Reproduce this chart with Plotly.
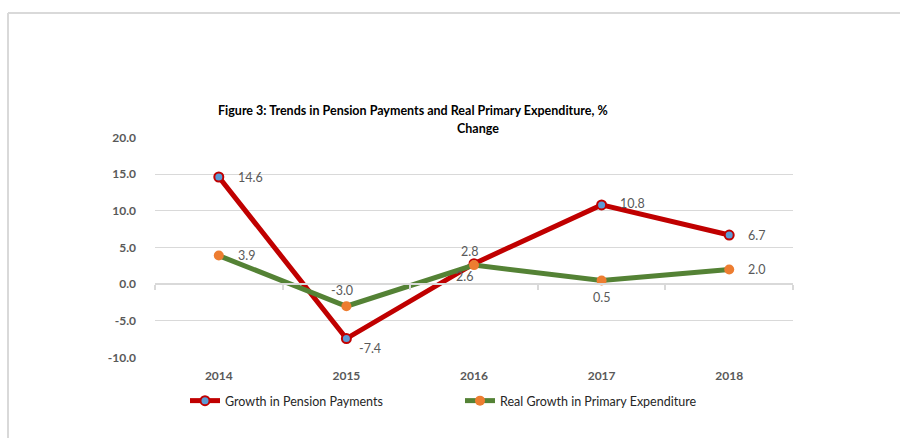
import plotly.graph_objects as go

years = ["2014", "2015", "2016", "2017", "2018"]
pension_growth = [14.6, -7.4, 2.8, 10.8, 6.7]
primary_exp_growth = [3.9, -3.0, 2.6, 0.5, 2.0]
y_ticks = [-10, -5, 0, 5, 10, 15, 20]

# label offsets (px) relative to each point: (xshift, yshift, xanchor)
pension_label_off = [(17, 0, "left"), (11, -10, "left"), (-5, 12, "center"), (16, 1, "left"), (17, 0, "left")]
primary_label_off = [(17, 0, "left"), (-4, 16, "center"), (-10, -11, "center"), (0, -17, "center"), (17, 0, "left")]

W, H = 900, 438
x_dom = [155 / W, 793 / W]
y_dom = [(H - 358) / H, (H - 137) / H]
y_min, y_max = -10, 20
zero_pos = y_dom[0] + (0 - y_min) / (y_max - y_min) * (y_dom[1] - y_dom[0])

FONT = "Lato, 'Open Sans', sans-serif"
GRAY = "#595959"
GRID = "#D9D9D9"

xs = list(range(len(years)))

fig = go.Figure()
fig.add_trace(go.Scatter(
    x=xs, y=pension_growth, name="Growth in Pension Payments",
    mode="lines+markers",
    line=dict(color="#C00000", width=5),
    marker=dict(symbol="circle", size=9, color="#5B9BD5",
                line=dict(color="#C00000", width=2)),
))
fig.add_trace(go.Scatter(
    x=xs, y=primary_exp_growth, name="Real Growth in Primary Expenditure",
    mode="lines+markers",
    line=dict(color="#548235", width=5),
    marker=dict(symbol="circle", size=10, color="#ED7D31",
                line=dict(color="#ED7D31", width=0)),
))

for series, offsets in ((pension_growth, pension_label_off), (primary_exp_growth, primary_label_off)):
    for i, (v, (dx, dy, anchor)) in enumerate(zip(series, offsets)):
        fig.add_annotation(x=i, y=v, text=f"{v:.1f}", showarrow=False,
                           xanchor=anchor, yanchor="middle", xshift=dx, yshift=dy,
                           font=dict(family=FONT, size=12.5, color=GRAY))

fig.update_layout(
    width=W, height=H,
    margin=dict(l=0, r=0, t=0, b=0, autoexpand=False),
    paper_bgcolor="white", plot_bgcolor="white",
    font=dict(family=FONT, color=GRAY),
    showlegend=True,
    legend=dict(orientation="h", x=185 / W, y=(H - 401) / H,
                xanchor="left", yanchor="middle",
                font=dict(family=FONT, size=12.5, color="#262626"),
                entrywidth=230, itemwidth=30,
                bgcolor="rgba(0,0,0,0)"),
    xaxis=dict(domain=x_dom, range=[-0.5, len(years) - 0.5],
               tickvals=xs, ticktext=years, showgrid=False,
               zeroline=False, showline=False, ticks="", ticklabelstandoff=9,
               tickfont=dict(family=FONT, size=12, color=GRAY, weight="bold"),
               anchor="y"),
    xaxis2=dict(domain=x_dom, range=[-0.5, len(years) - 0.5],
                overlaying="x", anchor="free", position=zero_pos,
                side="bottom", showline=True, linecolor=GRID, linewidth=1.5,
                ticks="outside", ticklen=5, tickcolor=GRID, tickwidth=1.5,
                tickvals=[i - 0.5 for i in range(len(years) + 1)],
                showticklabels=False, showgrid=False, zeroline=False),
    yaxis=dict(domain=y_dom, range=[y_min - 0.05, y_max + 0.05],
               tickvals=y_ticks, ticktext=[f"{v:.1f}" for v in y_ticks],
               showgrid=True, gridcolor=GRID, gridwidth=1,
               zeroline=False, showline=False, ticks="", ticklabelstandoff=18,
               tickfont=dict(family=FONT, size=12, color=GRAY, weight="bold")),
)

# invisible helper to activate the overlay axis that carries the zero line ticks
fig.add_trace(go.Scatter(x=[0], y=[0], xaxis="x2", yaxis="y", mode="markers",
                         marker=dict(opacity=0), showlegend=False, hoverinfo="skip"))

fig.add_annotation(text="<b>Figure 3: Trends in Pension Payments and Real Primary Expenditure, %</b>",
                   xref="paper", yref="paper", x=413 / W, y=(H - 110) / H,
                   xanchor="center", yanchor="middle", showarrow=False,
                   font=dict(family=FONT, size=12.5, color="black"))
fig.add_annotation(text="<b>Change</b>",
                   xref="paper", yref="paper", x=478 / W, y=(H - 128) / H,
                   xanchor="center", yanchor="middle", showarrow=False,
                   font=dict(family=FONT, size=12.5, color="black"))

# chart frame border (top and left edges)
fig.add_shape(type="line", xref="paper", yref="paper", x0=8 / W, x1=1, y0=(H - 13) / H, y1=(H - 13) / H,
              line=dict(color=GRID, width=2))
fig.add_shape(type="line", xref="paper", yref="paper", x0=8 / W, x1=8 / W, y0=0, y1=(H - 13) / H,
              line=dict(color=GRID, width=2))

fig.write_html("out.html")
